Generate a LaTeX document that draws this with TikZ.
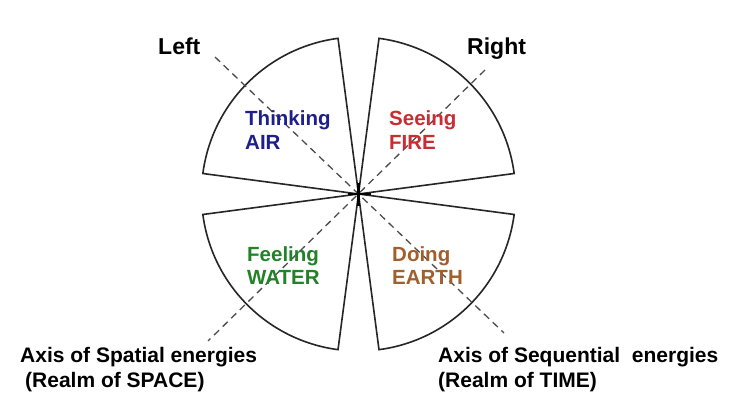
\documentclass[tikz,border=0pt]{standalone}
\usepackage{fontspec}
\setmainfont{Liberation Sans}
\begin{document}
\begin{tikzpicture}[x=1pt,y=1pt,
  wedge/.style={draw=black!85,line width=1.6pt,fill=white,line join=miter},
  axisline/.style={draw=black!70,line width=1.3pt,dash pattern=on 7pt off 5pt},
  lbl/.style={inner sep=0pt,anchor=base west,font=\fontsize{20.5}{24}\selectfont\bfseries},
  side/.style={inner sep=0pt,anchor=base west,font=\fontsize{23}{27}\selectfont\bfseries},
  axtxt/.style={inner sep=0pt,anchor=base west,font=\fontsize{21}{24}\selectfont\bfseries}
]
\useasboundingbox (0,0) rectangle (741,417);
\fill[white] (0,0) rectangle (741,417);
\definecolor{airc}{RGB}{30,30,140}
\definecolor{firec}{RGB}{200,45,50}
\definecolor{waterc}{RGB}{35,130,40}
\definecolor{earthc}{RGB}{160,95,45}
\coordinate (C) at (358.5,223);
% wedges
\foreach \a in {7.5,97.5,187.5,277.5}{
  \draw[wedge] (C) -- ++(\a:157) arc[start angle=\a, end angle=\a+75, radius=157] -- cycle;
}
% axes
\coordinate (ul) at (215,360);
\coordinate (lr) at (504,84);
\coordinate (ur) at (485,347);
\coordinate (ll) at (208,76);
\draw[axisline] (ul) -- (lr);
\draw[axisline] (ur) -- (ll);
% centre cross
\draw[line width=2.6pt,black] ([xshift=-11pt]C) -- ([xshift=12pt]C);
\draw[line width=2.6pt,black] ([yshift=-12pt]C) -- ([yshift=11pt]C);
% labels
\node[side] (left) at (158,362) {Left};
\node[side] (right) at (467,362) {Right};
\node[lbl,text=airc] (think) at (245,291) {Thinking};
\node[lbl,text=airc] (air) at (245,267) {AIR};
\node[lbl,text=firec] (see) at (389,291) {Seeing};
\node[lbl,text=firec] (fire) at (389,267) {FIRE};
\node[lbl,text=waterc] (feel) at (247,155) {Feeling};
\node[lbl,text=waterc] (water) at (247,132) {WATER};
\node[lbl,text=earthc] (doing) at (392,155) {Doing};
\node[lbl,text=earthc] (earth) at (392,132) {EARTH};
\node[axtxt] (ax1) at (20,54) {Axis of Spatial energies};
\node[axtxt] (ax1b) at (25,29) {(Realm of SPACE)};
\node[axtxt] (ax2) at (438,54) {Axis of Sequential\ \ energies};
\node[axtxt] (ax2b) at (438,29) {(Realm of TIME)};
\end{tikzpicture}
\end{document}
